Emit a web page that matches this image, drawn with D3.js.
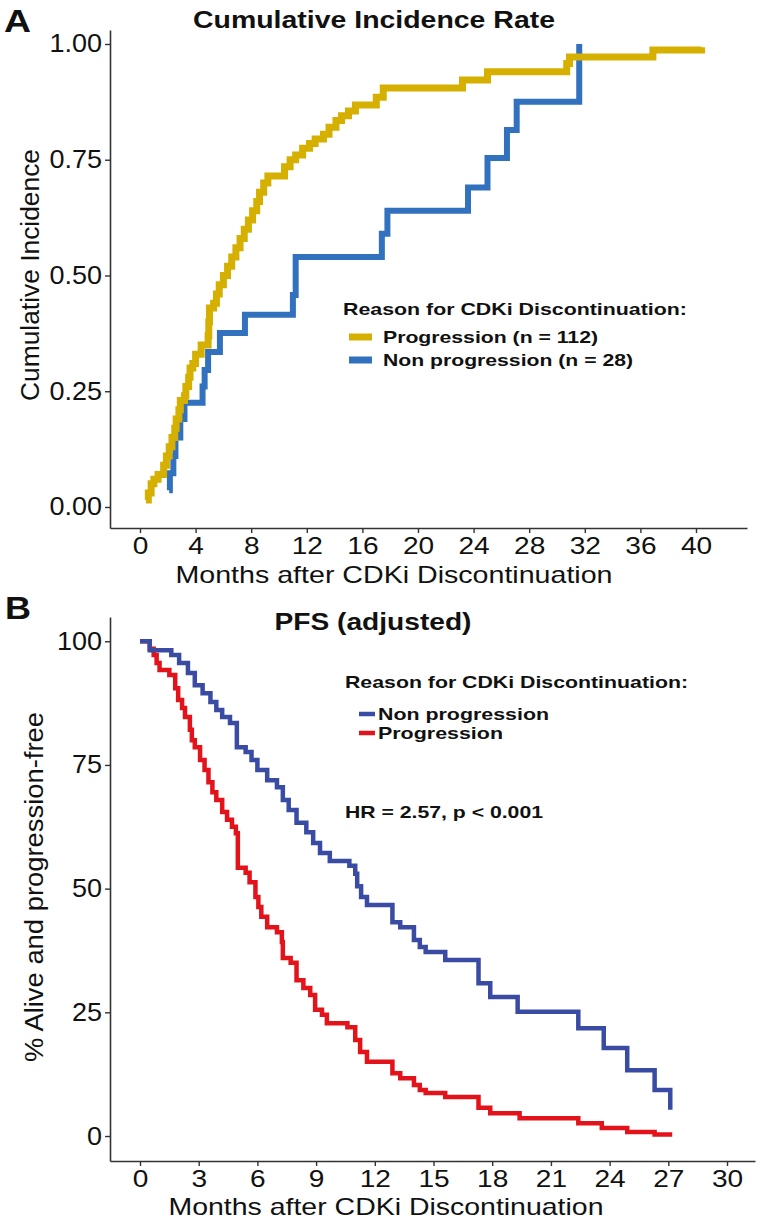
<!DOCTYPE html>
<html>
<head>
<meta charset="utf-8">
<script src="https://cdn.jsdelivr.net/npm/d3@7"></script>
<style>
  body { margin: 0; background: #fff; }
  svg text { font-family: "Liberation Sans", Arial, sans-serif; fill: #111; }
</style>
</head>
<body>
<svg id="chart" width="760" height="1220"></svg>
<script>
// ---------- Panel A data: cumulative incidence (months, value) ----------
const incTicksX = [0, 4, 8, 12, 16, 20, 24, 28, 32, 36, 40];
const incTicksY = [0, 0.25, 0.5, 0.75, 1.0];
const incProgression = [
  [0.43,0.015],[0.6,0.03],[0.8,0.05],[1.0,0.06],[1.3,0.07],[1.7,0.09],[1.9,0.11],[2.1,0.13],
  [2.3,0.15],[2.5,0.17],[2.6,0.19],[2.8,0.21],[2.9,0.23],[3.2,0.24],[3.3,0.26],[3.5,0.28],
  [3.6,0.30],[3.8,0.31],[4.0,0.33],[4.4,0.35],[4.9,0.37],[4.95,0.40],[5.0,0.43],[5.3,0.44],
  [5.5,0.46],[5.7,0.48],[6.0,0.50],[6.3,0.52],[6.6,0.54],[6.9,0.56],[7.2,0.58],[7.5,0.60],
  [7.8,0.62],[8.1,0.64],[8.4,0.66],[8.6,0.68],[8.9,0.70],[9.2,0.715],[10.4,0.735],[10.8,0.75],
  [11.2,0.76],[11.7,0.775],[12.2,0.785],[12.6,0.795],[13.2,0.805],[13.6,0.82],[14.1,0.835],
  [14.5,0.845],[15.0,0.855],[15.5,0.868],[17.0,0.885],[17.5,0.905],[23.2,0.922],[25.0,0.94],
  [30.7,0.958],[30.9,0.972],[36.9,0.987],[40.4,0.993]
];
const incNonProgression = [
  [2.1,0.036],[2.15,0.073],[2.4,0.11],[2.55,0.15],[2.9,0.19],[3.2,0.225],[4.5,0.26],[4.65,0.296],
  [4.9,0.335],[5.75,0.376],[7.55,0.415],[11.0,0.458],[11.2,0.54],[17.4,0.59],[17.8,0.64],
  [23.6,0.69],[25.0,0.754],[26.4,0.814],[27.1,0.875],[31.6,1.0]
];
const incLegend = ["Progression (n = 112)", "Non progression (n = 28)"];

// ---------- Panel B data: PFS (months, % alive and progression-free) ----------
const pfsTicksX = [0, 3, 6, 9, 12, 15, 18, 21, 24, 27, 30];
const pfsTicksY = [0, 25, 50, 75, 100];
const pfsNonProgression = [
  [0,100],[0.5,98.2],[1.6,97.2],[2.0,95.6],[2.45,93.6],[2.8,91.1],[3.2,89.5],[3.6,87.7],[3.9,86.1],
  [4.2,84.7],[4.6,83.5],[4.95,78.6],[5.4,77.6],[5.7,76],[6.0,74],[6.5,71.9],[7.0,70.5],[7.3,67.9],
  [7.6,65.9],[8.0,63.3],[8.5,61.4],[8.85,59.2],[9.2,57.2],[9.7,55.6],[10.7,54.6],[11.0,53.0],
  [11.1,50.5],[11.3,48.3],[11.6,46.7],[12.9,43.2],[13.3,42.2],[14.0,39.6],[14.3,38.2],[14.6,37.2],
  [15.6,35.6],[17.3,30.9],[17.9,28.1],[19.3,25.1],[22.4,21.8],[23.7,17.8],[24.9,13.3],[26.3,9.3],
  [27.1,5.3]
];
const pfsProgression = [
  [0,100],[0.5,98.5],[0.7,97.2],[0.85,95.6],[1.0,94.2],[1.5,93.2],[1.8,90.5],[1.95,88.1],[2.15,86.5],
  [2.3,84.7],[2.55,82.1],[2.65,80],[2.8,78.6],[3.07,76],[3.3,74],[3.5,71.5],[3.7,69.5],[3.9,67.9],
  [4.2,65.5],[4.45,63.9],[4.7,62.5],[4.9,61.2],[5.0,54.2],[5.4,53.2],[5.6,51.3],[5.9,48.3],[6.05,46.3],
  [6.2,44.3],[6.5,42.2],[7.0,41.2],[7.25,39.2],[7.3,36],[7.7,35],[8.0,31.5],[8.35,29.9],[8.7,28.5],
  [8.95,25.5],[9.3,24.5],[9.55,22.8],[10.6,22.0],[11.0,19.4],[11.25,17],[11.6,15.0],[12.9,12.7],
  [13.3,11.7],[14.0,10.3],[14.3,9.3],[14.6,8.7],[15.6,7.9],[17.3,5.7],[17.9,4.6],[19.4,3.6],
  [22.4,2.6],[23.6,1.6],[24.9,0.8],[26.3,0.3],[27.2,0.3]
];
const pfsLegend = ["Non progression", "Progression"];

// ---------- Drawing ----------
const svg = d3.select("#chart");
const FONT = '"Liberation Sans", Arial, sans-serif';

function stretch(sel, f) {
  sel.each(function () {
    const l = this.getComputedTextLength();
    d3.select(this).attr("textLength", l * f).attr("lengthAdjust", "spacingAndGlyphs");
  });
}
function fit(sel, w) {
  sel.attr("textLength", w).attr("lengthAdjust", "spacingAndGlyphs");
}
function styleAxis(g, fs) {
  g.select(".domain").attr("stroke", "#333").attr("stroke-width", 1.6);
  g.selectAll(".tick line").attr("stroke", "#333").attr("stroke-width", 1.4);
  g.selectAll(".tick text").attr("font-size", fs).attr("fill", "#111").style("font-family", FONT);
}

// ===== Panel A =====
const xA = d3.scaleLinear().domain([-2.158, 43.67]).range([110, 747]);
const yA = d3.scaleLinear().domain([-0.0454, 1.0302]).range([528, 30]);

const gxA = svg.append("g").attr("transform", "translate(0,528)")
  .call(d3.axisBottom(xA).tickValues(incTicksX).tickFormat(d3.format("d")).tickSize(5).tickPadding(4).tickSizeOuter(0));
styleAxis(gxA, 24);
stretch(gxA.selectAll(".tick text"), 1.17);

const gyA = svg.append("g").attr("transform", "translate(110,0)")
  .call(d3.axisLeft(yA).tickValues(incTicksY).tickFormat(d3.format(".2f")).tickSize(5).tickPadding(3).tickSizeOuter(0));
styleAxis(gyA, 25);
stretch(gyA.selectAll(".tick text"), 1.08);

const lineA = d3.line().x(d => xA(d[0])).y(d => yA(d[1])).curve(d3.curveStepAfter);
const colA = ["#D6B000", "#3171BE"];
svg.append("path").datum(incNonProgression).attr("d", lineA)
  .attr("fill", "none").attr("stroke", colA[1]).attr("stroke-width", 6);
svg.append("path").datum(incProgression).attr("d", lineA)
  .attr("fill", "none").attr("stroke", colA[0]).attr("stroke-width", 7);

svg.append("text").attr("x", 4).attr("y", 32).attr("font-size", 32).attr("font-weight", "bold")
  .text("A").call(fit, 27);
svg.append("text").attr("x", 374).attr("y", 28).attr("text-anchor", "middle")
  .attr("font-size", 23).attr("font-weight", "bold").text("Cumulative Incidence Rate").call(fit, 362);
svg.append("text").attr("transform", "translate(39,275) rotate(-90)").attr("text-anchor", "middle")
  .attr("font-size", 25).text("Cumulative Incidence").call(fit, 252);
svg.append("text").attr("x", 394).attr("y", 583).attr("text-anchor", "middle")
  .attr("font-size", 24).text("Months after CDKi Discontinuation").call(fit, 437);

// legend A
svg.append("text").attr("x", 343).attr("y", 315).attr("font-size", 17).attr("font-weight", "bold")
  .text("Reason for CDKi Discontinuation:").call(fit, 344);
const legA = svg.append("g");
const legAy = [337, 360];
const legAw = [215, 250];
incLegend.forEach((t, i) => {
  legA.append("line").attr("x1", 349).attr("x2", 372).attr("y1", legAy[i]).attr("y2", legAy[i])
    .attr("stroke", colA[i]).attr("stroke-width", 7);
  legA.append("text").attr("x", 383).attr("y", legAy[i] + 6).attr("font-size", 17)
    .attr("font-weight", "bold").text(t).call(fit, legAw[i]);
});

// ===== Panel B =====
const xB = d3.scaleLinear().domain([-1.533, 31.43]).range([110, 755]);
const yB = d3.scaleLinear().domain([-5.05, 104.9]).range([1161, 617]);

const gxB = svg.append("g").attr("transform", "translate(0,1161)")
  .call(d3.axisBottom(xB).tickValues(pfsTicksX).tickFormat(d3.format("d")).tickSize(5).tickPadding(4).tickSizeOuter(0));
styleAxis(gxB, 24);
stretch(gxB.selectAll(".tick text"), 1.17);

const gyB = svg.append("g").attr("transform", "translate(110,0)")
  .call(d3.axisLeft(yB).tickValues(pfsTicksY).tickFormat(d3.format("d")).tickSize(5).tickPadding(3).tickSizeOuter(0));
styleAxis(gyB, 25);
stretch(gyB.selectAll(".tick text"), 1.08);

const lineB = d3.line().x(d => xB(d[0])).y(d => yB(d[1])).curve(d3.curveStepAfter);
const colB = ["#3A4BA3", "#E3131B"];
svg.append("path").datum(pfsProgression).attr("d", lineB)
  .attr("fill", "none").attr("stroke", colB[1]).attr("stroke-width", 4.5);
svg.append("path").datum(pfsNonProgression).attr("d", lineB)
  .attr("fill", "none").attr("stroke", colB[0]).attr("stroke-width", 4.5);

svg.append("text").attr("x", 5).attr("y", 619).attr("font-size", 32).attr("font-weight", "bold")
  .text("B").call(fit, 26);
svg.append("text").attr("x", 373).attr("y", 630).attr("text-anchor", "middle")
  .attr("font-size", 23).attr("font-weight", "bold").text("PFS (adjusted)").call(fit, 197);
svg.append("text").attr("transform", "translate(43,887) rotate(-90)").attr("text-anchor", "middle")
  .attr("font-size", 25).text("% Alive and progression-free").call(fit, 350);
svg.append("text").attr("x", 386).attr("y", 1215).attr("text-anchor", "middle")
  .attr("font-size", 24).text("Months after CDKi Discontinuation").call(fit, 435);

svg.append("text").attr("x", 345).attr("y", 688).attr("font-size", 17).attr("font-weight", "bold")
  .text("Reason for CDKi Discontinuation:").call(fit, 343);
const legBy = [714, 733];
const legBw = [171, 125];
pfsLegend.forEach((t, i) => {
  svg.append("line").attr("x1", 359).attr("x2", 375).attr("y1", legBy[i]).attr("y2", legBy[i])
    .attr("stroke", colB[i]).attr("stroke-width", 4.5);
  svg.append("text").attr("x", 378).attr("y", legBy[i] + 5.5).attr("font-size", 17)
    .attr("font-weight", "bold").text(t).call(fit, legBw[i]);
});
svg.append("text").attr("x", 345).attr("y", 818).attr("font-size", 17).attr("font-weight", "bold")
  .text("HR = 2.57, p < 0.001").call(fit, 198);
</script>
</body>
</html>
